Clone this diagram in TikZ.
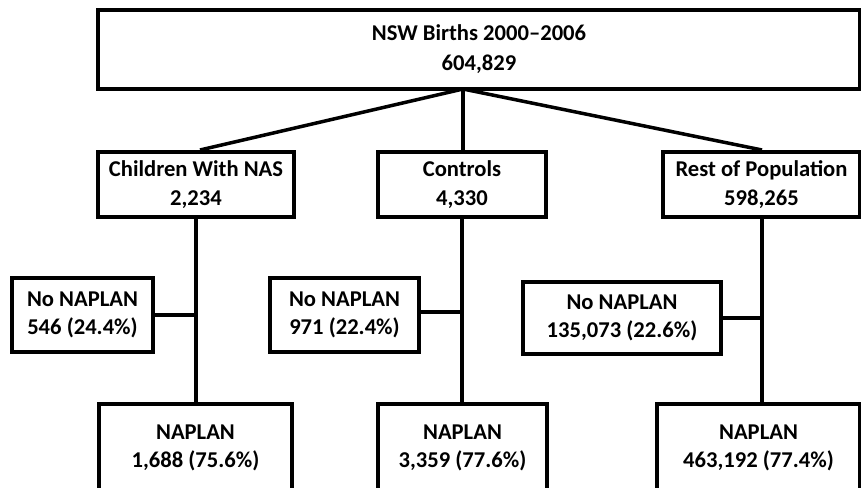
\documentclass[tikz,border=0pt]{standalone}
\usepackage{fontspec}
\setmainfont{Carlito}
\begin{document}
\begin{tikzpicture}[x=1pt,y=-1pt,
  box/.style={draw=black,line width=4pt,fill=white,align=center,inner sep=0pt,
    font=\fontsize{22.6}{28.5}\selectfont\bfseries},
  link/.style={draw=black,line width=3.5pt}]
\useasboundingbox (0,0) rectangle (861,487);
\clip (0,0) rectangle (861,487);
% nodes
\node[box,minimum width=762pt,minimum height=79pt] (top) at (479,49.5) {\raisebox{-2pt}{\begin{tabular}{@{}c@{}}NSW Births 2000--2006\\[1.5pt]604,829\end{tabular}}};
\node[box,minimum width=196pt,minimum height=65pt] (nas) at (196,184.5) {Children With NAS\\2,234};
\node[box,minimum width=168pt,minimum height=65pt] (ctl) at (462,184.5) {Controls\\4,330};
\node[box,minimum width=197pt,minimum height=65pt] (rest) at (761.5,184.5) {Rest of Population\\598,265};
\node[box,minimum width=141pt,minimum height=74pt] (nn1) at (82.5,315) {No NAPLAN\\546 (24.4\%)};
\node[box,minimum width=149pt,minimum height=74pt] (nn2) at (344.5,315) {No NAPLAN\\971 (22.4\%)};
\node[box,minimum width=198pt,minimum height=72pt] (nn3) at (622,318) {No NAPLAN\\135,073 (22.6\%)};
\node[box,minimum width=193pt,minimum height=88pt] (np1) at (195.5,448) {NAPLAN\\1,688 (75.6\%)};
\node[box,minimum width=169pt,minimum height=88pt] (np2) at (462.5,448) {NAPLAN\\3,359 (77.6\%)};
\node[box,minimum width=203pt,minimum height=88pt] (np3) at (758.5,448) {NAPLAN\\463,192 (77.4\%)};
\coordinate (J) at (463,89);
\coordinate (restb) at ([xshift=0.5pt]rest.south);
\coordinate (nasin) at ([xshift=4pt]nas.north);
% connectors
\draw[link] (J) -- (nasin);
\draw[link] (J) -- (J |- ctl.north);
\draw[link] (J) -- (restb |- rest.north);
\draw[link] (nas.south) -- (nas.south |- np1.north);
\draw[link] (ctl.south) -- (ctl.south |- np2.north);
\draw[link] (restb) -- (restb |- np3.north);
\draw[link] (nn1.east) -- (nn1.east -| nas.south);
\draw[link] ([yshift=3pt]nn2.east) -- ([yshift=3pt]nn2.east -| ctl.south);
\draw[link] (nn3.east) -- (nn3.east -| restb);
\end{tikzpicture}
\end{document}
